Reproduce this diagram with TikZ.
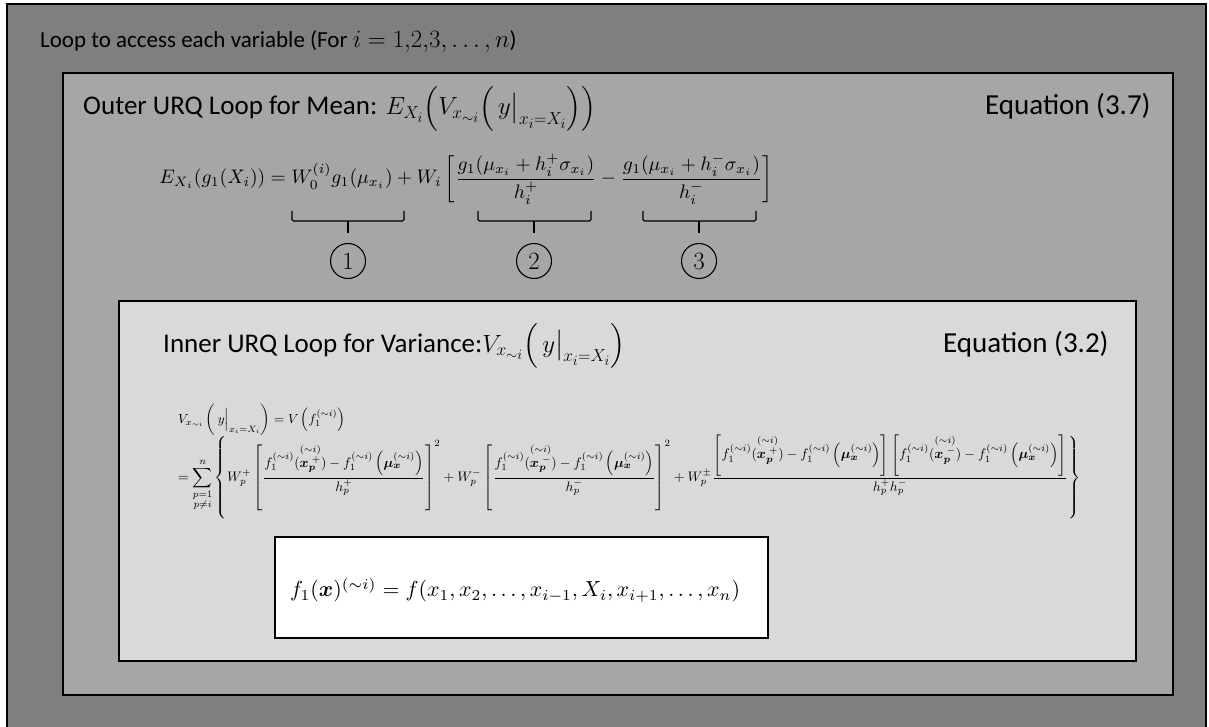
\documentclass[tikz,border=0pt]{standalone}
\usepackage{amsmath}
\usepackage{bm}
\usepackage{fontspec}
\setmainfont{Carlito}
\definecolor{gOuter}{HTML}{7F7F7F}
\definecolor{gMid}{HTML}{A6A6A6}
\definecolor{gLight}{HTML}{D9D9D9}
\newcommand\fsim{f_1^{(\sim i)}}
\newcommand\xpp[1]{\overset{(\sim i)}{\bm{x}_{\bm{p}}^{\;#1}}}
\newcommand\muxx{\left(\bm{\mu}_{\bm{x}}^{(\sim i)}\right)}
\tikzset{
  panel/.style={draw=black, line width=1.5pt},
  title/.style={anchor=base west, inner sep=0pt, font=\fontsize{27}{31}\selectfont},
  eqlabel/.style={anchor=base west, inner sep=0pt, font=\fontsize{29}{32}\selectfont},
  eqnode/.style={inner sep=0pt},
  bracepath/.style={draw=black, line width=1.1pt, rounded corners=1.5pt},
  numcirc/.style={circle, draw=black, line width=1.1pt, minimum size=35pt, inner sep=0pt, font=\fontsize{24}{26}\selectfont}
}
\begin{document}
\begin{tikzpicture}[x=1pt,y=-1pt]
\useasboundingbox (0,0) rectangle (1209,727);
\fill[white] (0,0) rectangle (1209,727);
% panels
\draw[panel, fill=gOuter] (7,4) rectangle (1206,740);
\draw[panel, fill=gMid] (63,73) rectangle (1173,695);
\draw[panel, fill=gLight] (119,301) rectangle (1136,661);
\draw[panel, fill=white] (275,537) rectangle (768,638);
% titles
\node[title, font=\fontsize{23}{27}\selectfont] (t1) at (40,48) {Loop to access each variable (For $i=1{,}2{,}3,\ldots,n$)};
\node[title] (t2) at (83,115) {Outer URQ Loop for Mean: $E_{X_i}\!\left(V_{x_{\sim i}}\!\left(\,y\big|_{x_i=X_i}\right)\right)$};
\node[eqlabel] (e2) at (985,115) {Equation (3.7)};
\node[title] (t3) at (163,352) {Inner URQ Loop for Variance:$V_{x_{\sim i}}\!\left(\,y\big|_{x_i=X_i}\right)$};
\node[eqlabel] (e3) at (943,352) {Equation (3.2)};
% outer equation
\node[eqnode] (oeq) at (466,179) {\resizebox{613pt}{!}{$\displaystyle E_{X_i}(g_1(X_i)) = W_0^{(i)}g_1(\mu_{x_i}) + W_i\left[\frac{g_1(\mu_{x_i}+h_i^{+}\sigma_{x_i})}{h_i^{+}} - \frac{g_1(\mu_{x_i}+h_i^{-}\sigma_{x_i})}{h_i^{-}}\right]$}};
% braces
\draw[bracepath] (292,211) -- (292,221) -- (404,221) -- (404,211);
\draw[bracepath] (478,211) -- (478,221) -- (591,221) -- (591,211);
\draw[bracepath] (643,211) -- (643,221) -- (756,221) -- (756,211);
\coordinate (b1) at (348,221);
\coordinate (b2) at (534,221);
\coordinate (b3) at (699,221);
\node[numcirc] (c1) at (348,261) {$1$};
\node[numcirc] (c2) at (534,261) {$2$};
\node[numcirc] (c3) at (699,261) {$3$};
\draw[bracepath] (b1) -- ++(0,12);
\draw[bracepath] (b2) -- ++(0,12);
\draw[bracepath] (b3) -- ++(0,12);
% inner equation
\node[eqnode, anchor=west] (ieq1) at (178,420) {\resizebox{167pt}{!}{$\displaystyle V_{x_{\sim i}}\left(\,y\Big|_{x_i=X_i}\right) = V\left(\fsim\right)$}};
\node[eqnode, anchor=west] (ieq2) at (178,477) {\resizebox{902pt}{!}{$\displaystyle = \sum_{\substack{p=1\\ p\neq i}}^{n}\left\{W_p^{+}\left[\frac{\fsim(\xpp{+}) - \fsim\muxx}{h_p^{+}}\right]^2 + W_p^{-}\left[\frac{\fsim(\xpp{-}) - \fsim\muxx}{h_p^{-}}\right]^2 + W_p^{\pm}\frac{\left[\fsim(\xpp{+}) - \fsim\muxx\right]\left[\fsim(\xpp{-}) - \fsim\muxx\right]}{h_p^{+}h_p^{-}}\right\}$}};
% white box formula
\node[eqnode] (feq) at (515,590) {\resizebox{450pt}{!}{$f_1(\bm{x})^{(\sim i)} = f(x_1,x_2,\dots,x_{i-1},X_i,x_{i+1},\dots,x_n)$}};
\end{tikzpicture}
\end{document}
